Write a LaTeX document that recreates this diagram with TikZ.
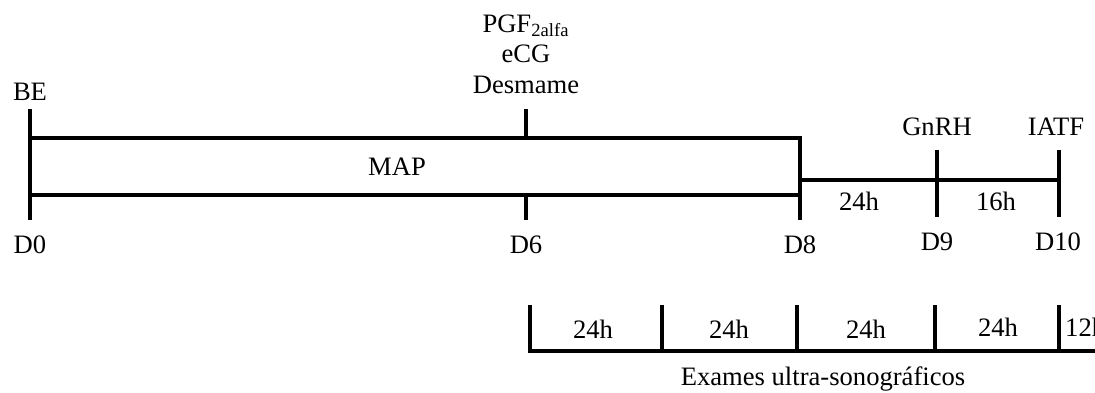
\documentclass[tikz,border=0pt]{standalone}
\usepackage{fontspec}
\setmainfont{Liberation Serif}
\usetikzlibrary{positioning}

\begin{document}
\begin{tikzpicture}[x=0.5pt, y=-0.5pt, line width=2.2pt,
    lbl/.style={anchor=base, inner sep=0pt, font=\fontsize{13.3}{15}\selectfont}]
    \useasboundingbox (0,0) rectangle (1095,392);
    \coordinate (d0t) at (30,109);    \coordinate (d0b) at (30,220);
    \coordinate (d6t) at (526,109);   \coordinate (d6b) at (526,220);
    \coordinate (d8t) at (800,138);   \coordinate (d8b) at (800,220);
    \coordinate (d9t) at (937,150);   \coordinate (d9b) at (937,217);
    \coordinate (d10t) at (1059,150); \coordinate (d10b) at (1059,217);
    \coordinate (mapt) at (30,138);   \coordinate (mapb) at (30,195);
    \coordinate (hr) at (800,180);
    \draw (d0t) -- (d0b);
    \draw (mapt) -- (d8t) -- (d8b);
    \draw (mapb) -- (d8t |- mapb);
    \draw (d6t) -- (d6t |- mapt);
    \draw (d6b |- mapb) -- (d6b);
    \draw (hr) -- (d10t |- hr);
    \draw (d9t) -- (d9b);
    \draw (d10t) -- (d10b);
    \node[lbl] (be) at (30,100) {BE};
    \node[lbl] (d0) at (30,253) {D0};
    \node[lbl] (d6) at (526,253) {D6};
    \node[lbl] (d8) at (800,253) {D8};
    \node[lbl] (d9) at (937,250) {D9};
    \node[lbl] (d10) at (1058,250) {D10};
    \node[lbl] (pgf) at (526,32) {PGF\textsubscript{2alfa}};
    \node[lbl] (ecg) at (526,62) {eCG};
    \node[lbl] (desm) at (526,93) {Desmame};
    \node[lbl] (map) at (397,175) {MAP};
    \node[lbl] (gnrh) at (937,135) {GnRH};
    \node[lbl] (iatf) at (1056,135) {IATF};
    \node[lbl] (h24) at (859,210) {24h};
    \node[lbl] (h16) at (996,210) {16h};
    % exames
    \coordinate (us1) at (530,351);
    \coordinate (usend) at (1095,351);
    \draw (us1) ++(0,-46) -- (us1) -- (usend);
    \foreach \x [count=\i from 2] in {662,797,935,1059} {
        \coordinate (us\i) at (\x,351);
        \draw (us\i) -- ++(0,-46);
    }
    \foreach \x/\y [count=\i] in {593/338, 729/338, 866/338, 998/336}
        \node[lbl] (ush\i) at (\x,\y) {24h};
    \node[lbl, anchor=base west] (ush5) at (1063,336) {12h};
    \node[lbl] (exames) at (823,385) {Exames ultra-sonográficos};
\end{tikzpicture}
\end{document}
